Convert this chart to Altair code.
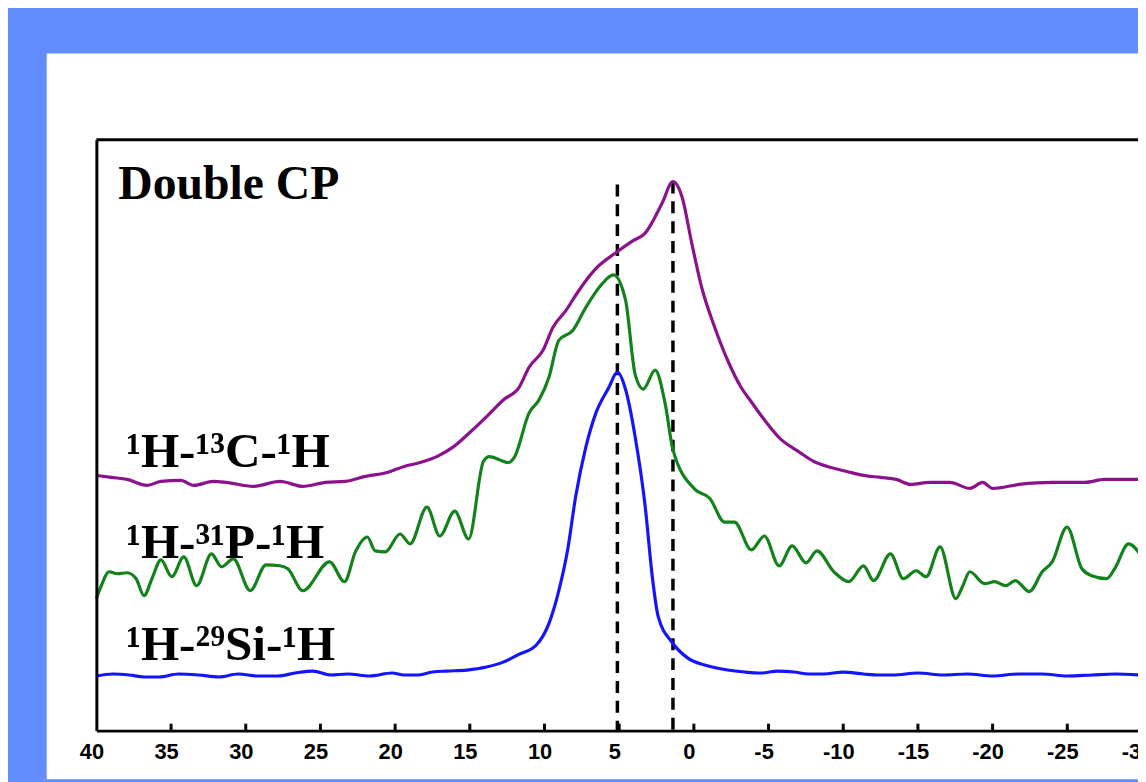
import altair as alt
import pandas as pd

# ---------------- data (chemical shift in ppm, intensity in a.u.) ----------------
c_ppm = [40.00, 39.00, 37.94, 36.61, 35.68, 34.35, 33.49, 32.16, 31.30, 29.50, 27.71, 26.18,
         24.65, 23.32, 21.99, 20.53, 19.40, 18.34, 17.21, 16.08, 15.02, 13.89, 12.76, 11.69,
         11.03, 10.10, 9.44, 8.57, 7.71, 6.58, 5.25, 4.12, 3.26, 2.13, 1.40, 0.80, 0.13,
         -0.53, -1.40, -2.26, -3.19, -3.85, -4.72, -5.85, -6.91, -8.04, -9.17, -10.23,
         -11.36, -12.49, -13.55, -14.49, -15.81, -17.14, -18.47, -19.34, -20.00, -21.79,
         -23.99, -26.18, -27.51, -30.00]
c_int = [257, 255, 253, 247, 251, 252, 247, 251, 250, 246, 251, 246,
         250, 251, 256, 260, 266, 270, 276, 286, 300, 316, 333, 346,
         366, 383, 406, 423, 443, 465, 481, 493, 501, 531, 553, 538, 490,
         446, 406, 373, 345, 331, 313, 293, 282, 271, 265, 261,
         257, 255, 253, 248, 250, 250, 244, 250, 244, 248,
         250, 250, 253, 253]

p_ppm = [40.00, 39.67, 39.14, 38.60, 37.94, 37.34, 36.81, 36.28, 35.68, 34.95, 34.15, 33.29,
         32.29, 31.63, 30.83, 29.70, 28.64, 27.71, 27.18, 26.18, 24.39, 23.39, 22.66, 21.86,
         21.33, 20.66, 19.67, 19.00, 17.87, 17.01, 16.01, 15.08, 14.09, 13.69, 12.43, 12.03,
         11.03, 10.37, 9.70, 9.04, 8.11, 7.24, 6.25, 5.38, 4.58, 3.92, 3.39, 2.59, 1.93,
         1.40, -0.07, -1.06, -2.06, -2.72, -3.85, -4.72, -5.71, -6.58, -7.51, -8.24, -9.37,
         -10.37, -11.36, -12.03, -13.16, -14.02, -14.88, -15.55, -16.48, -17.54, -18.01,
         -18.47, -19.47, -20.13, -20.86, -21.53, -22.46, -23.32, -23.99, -24.98, -25.98,
         -26.64, -27.64, -28.17, -29.10, -30.00]
p_int = [133, 146, 160, 158, 159, 153, 136, 153, 172, 155, 175, 146,
         178, 165, 173, 141, 167, 166, 163, 141, 170, 150, 180, 195,
         181, 180, 198, 188, 225, 196, 221, 193, 271, 276, 270, 275,
         320, 333, 356, 393, 403, 426, 448, 459, 434, 358, 344, 363, 330,
         283, 243, 234, 210, 210, 182, 196, 166, 186, 169, 181, 160,
         150, 166, 151, 178, 153, 161, 155, 185, 133, 146,
         160, 148, 150, 146, 151, 140, 160, 170, 205, 163,
         156, 153, 163, 188, 175]

s_ppm = [40.00, 38.90, 37.81, 36.80, 35.81, 34.50, 33.16, 31.80, 30.50, 29.20, 27.84, 26.70,
         25.51, 24.30, 23.19, 21.70, 20.20, 19.40, 18.54, 17.50, 16.54, 15.20, 13.89, 12.76,
         11.69, 10.56, 9.70, 9.04, 8.44, 7.91, 7.24, 6.58, 5.71, 5.12, 4.58, 3.92, 3.26,
         2.79, 2.39, 1.46, 0.40, -0.73, -2.26, -3.40, -4.52, -5.60, -6.71, -7.70, -8.70,
         -10.00, -11.36, -12.40, -13.36, -15.00, -16.68, -18.30, -20.00, -21.70, -23.32,
         -25.00, -26.64, -28.20, -30.00]
s_int = [55, 57, 56, 54, 54, 57, 56, 54, 57, 55, 55, 58,
         60, 56, 57, 55, 58, 56, 56, 59, 60, 61, 64, 69,
         77, 86, 108, 141, 183, 236, 285, 319, 345, 361, 344, 295, 226,
         156, 115, 89, 73, 66, 61, 59, 58, 60, 59, 57, 57,
         59, 57, 56, 56, 58, 56, 57, 55, 57, 57,
         55, 56, 57, 56]

series_names = ["1H-13C-1H", "1H-31P-1H", "1H-29Si-1H"]
series_colors = ["#8C128C", "#12821A", "#1414FF"]

tick_values = [40, 35, 30, 25, 20, 15, 10, 5, 0, -5, -10, -15, -20, -25, -30]
inner_ticks = [35, 30, 25, 20, 15, 10, 5, 0, -5, -10, -15, -20, -25]

marker_ppm = [5.12, 1.40]
marker_top = [550, 553]

title_text = ["Double CP"]
label_texts = ["\u00b9H-\u00b9\u00b3C-\u00b9H", "\u00b9H-\u00b3\u00b9P-\u00b9H", "\u00b9H-\u00b2\u2079Si-\u00b9H"]

# ---------------- tables ----------------
df = pd.concat([
    pd.DataFrame({"ppm": c_ppm, "I": c_int, "s": series_names[0]}),
    pd.DataFrame({"ppm": p_ppm, "I": p_int, "s": series_names[1]}),
    pd.DataFrame({"ppm": s_ppm, "I": s_int, "s": series_names[2]}),
], ignore_index=True)

W, H = 1053, 595
x_scale = alt.Scale(domain=[40, -30], nice=False, zero=False)
y_scale = alt.Scale(domain=[0, 595], nice=False, zero=False)

x_axis = alt.Axis(values=tick_values, ticks=False, grid=False, title=None,
                  domain=True, domainColor="black", domainWidth=3, zindex=2,
                  labelFont="Liberation Sans", labelFontWeight="bold", labelFontSize=22,
                  labelColor="black", labelPadding=11, labelOffset=-5,
                  labelExpr="datum.value < 0 ? '-' + abs(datum.value) : '' + datum.value",
                  labelFlush=False, labelOverlap=False, labelBound=False)
y_axis = alt.Axis(labels=False, ticks=False, grid=False, title=None, zindex=2,
                  domain=True, domainColor="black", domainWidth=3)

one = pd.DataFrame({"a": [0]})

white = alt.Chart(one).mark_rect(color="white").encode(
    x=alt.value(-50), x2=alt.value(W), y=alt.value(-87), y2=alt.value(H + 49))

top_frame = alt.Chart(one).mark_rule(color="black", strokeWidth=3).encode(
    x=alt.value(0), x2=alt.value(W), y=alt.value(0))

ticks = alt.Chart(pd.DataFrame({"ppm": inner_ticks})).mark_rule(color="black", strokeWidth=3).encode(
    x=alt.X("ppm:Q", scale=x_scale, axis=x_axis),
    y=alt.value(H), y2=alt.value(H - 7))

dashes = alt.Chart(pd.DataFrame({"ppm": marker_ppm, "top": marker_top, "bot": [0, 0]})).mark_rule(
    color="black", strokeWidth=3.5, strokeDash=[12, 8]).encode(
    x=alt.X("ppm:Q", scale=x_scale, axis=x_axis),
    y=alt.Y("top:Q", scale=y_scale, axis=y_axis),
    y2="bot:Q")

lines = alt.Chart(df).mark_line(strokeWidth=3.2, interpolate="monotone").encode(
    x=alt.X("ppm:Q", scale=x_scale, axis=x_axis),
    y=alt.Y("I:Q", scale=y_scale, axis=y_axis),
    color=alt.Color("s:N", scale=alt.Scale(domain=series_names, range=series_colors), legend=None),
    detail="s:N",
)

title = alt.Chart(pd.DataFrame({"t": title_text})).mark_text(
    font="Liberation Serif", fontWeight="bold", fontSize=48, align="left",
    baseline="alphabetic", color="black").encode(
    text="t:N", x=alt.value(22), y=alt.value(60))

labels = alt.Chart(pd.DataFrame({"t": label_texts, "yy": [330, 421, 524]})).mark_text(
    font="Liberation Serif", fontWeight="bold", fontSize=49.5, align="left",
    baseline="alphabetic", color="black").encode(
    text="t:N", x=alt.value(30), y=alt.Y("yy:Q", scale=alt.Scale(domain=[0, H], range=[0, H]), axis=None))

chart = alt.layer(white, top_frame, dashes, lines, ticks, title, labels).resolve_scale(
    y="independent"
).properties(
    width=W, height=H,
    padding={"left": 89, "top": 130, "right": -4, "bottom": 49},
    autosize=alt.AutoSizeParams(type="none"),
    background="#628DFF",
).configure_view(stroke=None)

chart.save("out.html", embed_options={"renderer": "svg", "actions": False})
